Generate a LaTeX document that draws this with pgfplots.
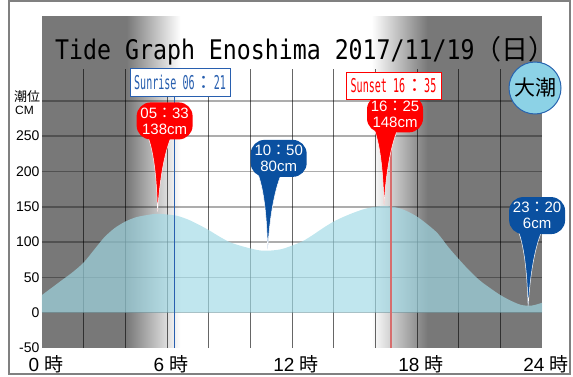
\documentclass[border=0pt]{standalone}
\usepackage{pgfplots}
\pgfplotsset{compat=1.18}
\usepackage{pgfplotstable}
\usepackage{fontspec}
\setmainfont{Liberation Sans}
\newfontfamily\jp{Noto Sans CJK JP}
\newfontfamily\mono[FakeStretch=0.86]{DejaVu Sans Mono}
\newfontfamily\monon[FakeStretch=0.53]{DejaVu Sans Mono}

\definecolor{night}{RGB}{120,120,120}
\definecolor{water}{RGB}{161,218,230}
\definecolor{bblue}{RGB}{10,80,160}
\definecolor{sunblue}{RGB}{40,95,175}
\definecolor{circfill}{RGB}{140,210,230}
\definecolor{circdraw}{RGB}{40,100,175}
\definecolor{framegray}{RGB}{128,128,128}
\definecolor{sunsetline}{RGB}{215,110,110}

\pgfdeclareplotmark{btail}{%
  \pgfpathmoveto{\pgfpointorigin}%
  \pgfpathcurveto{\pgfpoint{-1pt}{30pt}}{\pgfpoint{-3pt}{57pt}}{\pgfpoint{-10pt}{76pt}}%
  \pgfpathlineto{\pgfpoint{14pt}{76pt}}%
  \pgfpathcurveto{\pgfpoint{6pt}{57pt}}{\pgfpoint{2pt}{30pt}}{\pgfpointorigin}%
  \pgfpathclose
  \pgfusepathqfillstroke}

\pgfplotsset{
  balloon/.style n args={3}{only marks, mark=btail,
    mark options={fill=#1, draw=white, line width=0.5pt},
    nodes near coords={#2},
    every node near coord/.style={anchor=south, xshift=#3, yshift=72pt, fill=#1, text=white,
      rounded corners=14pt, align=center, minimum width=56pt, minimum height=37pt, inner sep=1pt,
      font=\fontsize{15}{16}\selectfont}},
}

\pgfplotstableread{
t y
0 25
0.5 36
1 47
1.5 58
2 71
2.5 89
3 107
3.5 120
4 129
4.5 135
5 138
5.5 140
6 139
6.5 137
7 132
7.5 125
8 117
8.5 108
9 100
9.5 95
10 91
10.5 88
11 88
11.5 90
12 95
12.5 101
13 110
13.5 120
14 129
14.5 136
15 142
15.5 147
16 150
16.5 151
17 149
17.5 144
18 136
18.5 125
19 112
19.5 93
20 76
20.5 60
21 46
21.5 35
22 25
22.5 17
23 11
23.5 10
24 14
}\tidetab

\begin{document}
\begin{tikzpicture}
\useasboundingbox (0,0) rectangle (573pt,376pt);
\draw[framegray, line width=2pt] (9pt,2pt) rectangle (570pt,375pt);
% background day/night (plot area 42..542 x 28..360)
\fill[night] (42pt,28pt) rectangle (127.5pt,360pt);
\foreach \i in {0,...,53}{
  \pgfmathsetmacro\p{100-(\i+0.5)*100/54}
  \fill[night!\p!white] ({127pt+\i*1pt},28pt) rectangle ({128.2pt+\i*1pt},360pt);
}
\foreach \i in {0,...,55}{
  \pgfmathsetmacro\p{(\i+0.5)*100/56}
  \fill[night!\p!white] ({372pt+\i*1pt},28pt) rectangle ({373.2pt+\i*1pt},360pt);
}
\fill[night] (428pt,28pt) rectangle (542pt,360pt);
\begin{axis}[
  at={(42pt,28pt)}, anchor=south west,
  scale only axis, width=500pt, height=332pt,
  xmin=0, xmax=24, ymin=-50, ymax=420,
  axis line style={draw=none},
  major tick length=0pt,
  xtick={0,6,12,18,24},
  xticklabels={0 {\jp 時},6 {\jp 時},12 {\jp 時},18 {\jp 時},24 {\jp 時}},
  ytick={-50,0,50,100,150,200,250},
  /pgf/number format/assume math mode=true,
  xticklabel style={font=\fontsize{19}{19}\selectfont, xshift=4pt, yshift=-4pt},
  yticklabel style={font=\fontsize{14}{14}\selectfont, anchor=east, xshift=1pt},
  clip=true,
]
% grid
\pgfplotsinvokeforeach{0,50,100,150,200,250,300}{
  \draw[black, opacity=0.32, line width=1.6pt] (axis cs:0,#1) -- (axis cs:24,#1);
}
\pgfplotsinvokeforeach{2,4,6,8,10,12,14,16,18,20,22}{
  \draw[black, opacity=0.6, line width=0.9pt] (axis cs:#1,-50) -- (axis cs:#1,345);
}
% water
\addplot[draw=none, fill=water, fill opacity=0.67, smooth] table[x=t,y=y]{\tidetab} \closedcycle;
% sunrise / sunset lines
\draw[sunblue, line width=1.2pt] (axis cs:6.35,-50) -- (axis cs:6.35,306);
\draw[sunsetline, line width=1.2pt] (axis cs:16.75,-50) -- (axis cs:16.75,300);
% tide callouts
\addplot[balloon={red}{05{\jp ：}33\\138cm}{7pt}] coordinates {(5.55,143)};
\addplot[balloon={red}{16{\jp ：}25\\148cm}{11pt}] coordinates {(16.4167,153)};
\addplot[balloon={bblue}{10{\jp ：}50\\80cm}{11pt}] coordinates {(10.8333,90)};
\addplot[balloon={bblue}{23{\jp ：}20\\6cm}{9pt}] coordinates {(23.3333,9)};
\end{axis}
% title
\node[anchor=base west, inner sep=0pt] at (55pt,317pt)
  {\fontsize{27}{27}\selectfont\mono Tide Graph Enoshima 2017/11/19{\jp （日）}};
% sunrise / sunset boxes
\node[draw=sunblue, fill=white, text=sunblue, line width=1pt, minimum width=100pt, minimum height=28pt, inner sep=0pt]
  at (180pt,294pt) {\fontsize{19}{19}\selectfont\monon Sunrise 06{\jp ：}21};
\node[draw=red, fill=white, text=red, line width=1pt, minimum width=95pt, minimum height=27pt, inner sep=0pt]
  at (393.5pt,290.5pt) {\fontsize{19}{19}\selectfont\monon Sunset 16{\jp ：}35};
% spring tide circle
\draw[circdraw, fill=circfill, line width=1pt] (535pt,288pt) circle (26pt);
\node at (535pt,288pt) {\fontsize{21}{21}\selectfont\jp 大潮};
% y label
\node[anchor=west, inner sep=0pt] at (14pt,279pt) {\fontsize{13}{13}\selectfont\jp 潮位};
\node[anchor=west, inner sep=0pt] at (15pt,266pt) {\fontsize{12}{12}\selectfont CM};
\end{tikzpicture}
\end{document}
